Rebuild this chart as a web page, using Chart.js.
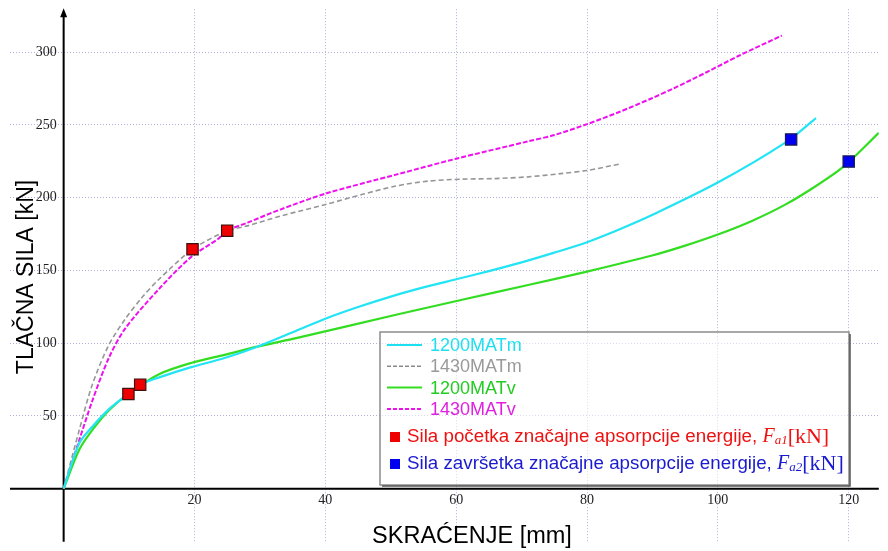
<!DOCTYPE html>
<html>
<head>
<meta charset="utf-8">
<script src="https://cdn.jsdelivr.net/npm/chart.js@4.4.1/dist/chart.umd.min.js"></script>
<style>
    body { margin: 0; background: #fff; }
    #wrap { width: 888px; height: 551px; }
</style>
</head>
<body>
<div id="wrap"><canvas id="MyChart" width="888" height="551"></canvas></div>
<script>
// series (x = skraćenje [mm], y = sila [kN])
const mat1200mX = [0, 2.4, 4.4, 6.9, 9.4, 11.7, 14.5, 19.5, 24.6, 29.6, 35, 40, 45, 50, 55, 60, 65, 70, 75, 80, 85, 90.1, 100.2, 110.3, 115];
const mat1200mY = [0, 31.4, 42.7, 54.5, 63.5, 71.5, 76.3, 83.5, 89.8, 97.6, 107.5, 116.8, 124.8, 132, 138.3, 143.9, 149.5, 155.5, 162.2, 169.4, 178.3, 188.4, 210.9, 237.8, 254.6];

const mat1430mX = [0, 2.4, 4.4, 6.9, 9.4, 12, 14.5, 19.7, 25, 28.1, 33.1, 40.2, 45.7, 50.8, 55.8, 60.9, 65.9, 71, 76, 80, 85.1];
const mat1430mY = [0, 40.5, 71.8, 98.7, 116.5, 131.5, 143.6, 164.5, 177.2, 180.6, 187.3, 195.5, 202.3, 208, 211.4, 212.7, 213.1, 214.3, 216.5, 218.7, 223.2];

const mat1200vX = [0, 2.4, 4.4, 6.9, 9.9, 14.5, 19.5, 24.6, 29.6, 35.7, 50.8, 60.9, 71, 80, 90.1, 95, 100.2, 105.2, 110.3, 115, 119.4, 124.6];
const mat1200vY = [0, 26.9, 40.4, 53.8, 65.1, 78.5, 86.4, 92, 97.6, 103.6, 119.5, 129.8, 140, 149.2, 160.4, 167, 175, 184, 195.2, 208, 222, 244.5];

const mat1430vX = [0, 2.4, 4.4, 6.9, 9.4, 14.5, 19.5, 23.6, 25, 28.1, 33.1, 40.2, 50.8, 59.8, 71, 75, 80, 85, 90, 93.1, 98.2, 103.2, 109.8];
const mat1430vY = [0, 33.6, 60.6, 89.8, 110, 136.9, 159.3, 171.6, 177.3, 182.8, 191.8, 203, 215.8, 226.5, 238.7, 243, 250.5, 259, 268.5, 274.8, 286, 297.5, 311.4];

// Fa1 (red) and Fa2 (blue) points
const fa1X = [9.9, 11.7, 19.7, 25];
const fa1Y = [65.1, 71.5, 164.5, 177.3];
const fa2X = [111.2, 120];
const fa2Y = [240, 224.8];

const xTicks = [20, 40, 60, 80, 100, 120];
const yTicks = [50, 100, 150, 200, 250, 300];

const seriesLabels = ['1200MATm', '1430MATm', '1200MATv', '1430MATv'];
const markerLabels = ['Sila početka značajne apsorpcije energije, ', 'Sila završetka značajne apsorpcije energije, '];

const toPoints = (xs, ys) => xs.map((x, i) => ({ x: x, y: ys[i] }));

const lineSet = (label, xs, ys, color, width, dash) => ({
    label: label,
    data: toPoints(xs, ys),
    showLine: true,
    borderColor: color,
    backgroundColor: color,
    borderWidth: width,
    borderDash: dash,
    pointRadius: 0,
    tension: 0.3,
    order: 1
});

const markerSet = (label, xs, ys, fill, edge) => ({
    label: label,
    data: toPoints(xs, ys),
    showLine: false,
    pointStyle: 'rect',
    pointRadius: 8,
    backgroundColor: fill,
    borderColor: edge,
    borderWidth: 1.2,
    order: 0
});

const legendRows = [
    { text: seriesLabels[0], color: '#1fe0f0', dash: [] , line: '#1fe0f0', w: 2 },
    { text: seriesLabels[1], color: '#9a9a9a', dash: [4, 2], line: '#8a8a8a', w: 1.5 },
    { text: seriesLabels[2], color: '#22cc22', dash: [], line: '#33dd22', w: 2 },
    { text: seriesLabels[3], color: '#e020e0', dash: [4, 2], line: '#ee11ee', w: 2 }
];

// axes through the origin, tick labels, titles, legend
const decorations = {
    id: 'decorations',
    beforeDatasetsDraw(chart) {
        const { ctx, chartArea, scales: { x, y } } = chart;
        const x0 = x.getPixelForValue(0);
        const y0 = y.getPixelForValue(0);
        ctx.save();
        ctx.strokeStyle = '#000';
        ctx.lineWidth = 2;
        ctx.beginPath();
        ctx.moveTo(chartArea.left, y0);
        ctx.lineTo(chartArea.right, y0);
        ctx.moveTo(x0, chartArea.bottom);
        ctx.lineTo(x0, chartArea.top + 4);
        ctx.stroke();
        // arrow head
        ctx.fillStyle = '#000';
        ctx.beginPath();
        ctx.moveTo(x0, chartArea.top - 1);
        ctx.lineTo(x0 - 3.5, chartArea.top + 8);
        ctx.lineTo(x0 + 3.5, chartArea.top + 8);
        ctx.closePath();
        ctx.fill();

        ctx.font = '14px "Liberation Serif", "Times New Roman", serif';
        ctx.fillStyle = '#222';
        ctx.textAlign = 'right';
        ctx.textBaseline = 'middle';
        yTicks.forEach(v => ctx.fillText(String(v), x0 - 7, y.getPixelForValue(v)));
        ctx.textAlign = 'center';
        xTicks.forEach(v => ctx.fillText(String(v), x.getPixelForValue(v), y0 + 12));
        ctx.restore();
    },
    afterDraw(chart) {
        const { ctx } = chart;
        ctx.save();
        ctx.fillStyle = '#000';
        ctx.font = '23.5px "Liberation Sans", Arial, sans-serif';
        ctx.textAlign = 'center';
        ctx.textBaseline = 'alphabetic';
        ctx.fillText('SKRAĆENJE [mm]', 472, 543);
        ctx.font = '23px "Liberation Sans", Arial, sans-serif';
        ctx.translate(33, 277);
        ctx.rotate(-Math.PI / 2);
        ctx.fillText('TLAČNA SILA [kN]', 0, 0);
        ctx.restore();

        // legend box
        const bx = 380, by = 332, bw = 469, bh = 153;
        ctx.save();
        ctx.fillStyle = 'rgba(255,255,255,0.55)';
        ctx.fillRect(bx, by, bw, bh);
        ctx.strokeStyle = '#8c8c8c';
        ctx.lineWidth = 1.5;
        ctx.strokeRect(bx, by, bw, bh);
        ctx.strokeStyle = '#555';
        ctx.beginPath();
        ctx.moveTo(bx + 2, by + bh + 1);
        ctx.lineTo(bx + bw + 1, by + bh + 1);
        ctx.lineTo(bx + bw + 1, by + 2);
        ctx.stroke();

        ctx.textBaseline = 'middle';
        ctx.textAlign = 'left';
        ctx.font = '18px "Liberation Sans", Arial, sans-serif';
        legendRows.forEach((r, i) => {
            const ry = 345 + i * 21.3;
            ctx.strokeStyle = r.line;
            ctx.lineWidth = r.w;
            ctx.setLineDash(r.dash);
            ctx.beginPath();
            ctx.moveTo(387, ry);
            ctx.lineTo(422, ry);
            ctx.stroke();
            ctx.setLineDash([]);
            ctx.fillStyle = r.color;
            ctx.fillText(r.text, 430, ry + 1);
        });

        const mRows = [
            { text: markerLabels[0], color: '#ee1111', box: '#ee0000', sub: 'a1', y: 437 },
            { text: markerLabels[1], color: '#1a1ad0', box: '#0000ee', sub: 'a2', y: 464 }
        ];
        mRows.forEach(r => {
            ctx.fillStyle = r.box;
            ctx.fillRect(390, r.y - 5, 10, 10);
            ctx.fillStyle = r.color;
            ctx.font = '18.75px "Liberation Sans", Arial, sans-serif';
            ctx.fillText(r.text, 407, r.y);
            let tx = 407 + ctx.measureText(r.text).width;
            ctx.font = 'italic 20px "Liberation Serif", "Times New Roman", serif';
            ctx.fillText('F', tx, r.y);
            tx += ctx.measureText('F').width;
            ctx.font = 'italic 13px "Liberation Serif", "Times New Roman", serif';
            ctx.fillText(r.sub, tx, r.y + 4);
            tx += ctx.measureText(r.sub).width;
            ctx.font = '22px "Liberation Serif", "Times New Roman", serif';
            ctx.fillText('[kN]', tx, r.y);
        });
        ctx.restore();
    }
};

const gridOpts = {
    color: '#b0b0dc',
    lineWidth: 1,
    drawTicks: false,
    borderDash: [1, 2]
};

new Chart(document.getElementById('MyChart').getContext('2d'), {
    type: 'scatter',
    data: {
        datasets: [
            markerSet(markerLabels[0], fa1X, fa1Y, '#ee0000', '#3a1010'),
            markerSet(markerLabels[1], fa2X, fa2Y, '#0000ee', '#1a1a55'),
            lineSet(seriesLabels[0], mat1200mX, mat1200mY, '#22e4f4', 2.2, []),
            lineSet(seriesLabels[1], mat1430mX, mat1430mY, '#969696', 1.6, [5, 3]),
            lineSet(seriesLabels[2], mat1200vX, mat1200vY, '#33dd22', 2.2, []),
            lineSet(seriesLabels[3], mat1430vX, mat1430vY, '#ee11ee', 2, [5, 2])
        ]
    },
    options: {
        responsive: false,
        animation: false,
        devicePixelRatio: 1,
        layout: { padding: { left: 10, top: 7, right: 0, bottom: 0 } },
        plugins: {
            legend: { display: false },
            tooltip: { enabled: false }
        },
        scales: {
            x: {
                type: 'linear',
                min: -8.2,
                max: 124.6,
                ticks: { display: false, stepSize: 20 },
                border: { display: false, dash: [1, 2] },
                grid: gridOpts,
                afterBuildTicks: s => { s.ticks = xTicks.map(v => ({ value: v })); }
            },
            y: {
                type: 'linear',
                min: -36.5,
                max: 329.5,
                ticks: { display: false, stepSize: 50 },
                border: { display: false, dash: [1, 2] },
                grid: gridOpts,
                afterBuildTicks: s => { s.ticks = yTicks.map(v => ({ value: v })); }
            }
        }
    },
    plugins: [decorations]
});
</script>
</body>
</html>
